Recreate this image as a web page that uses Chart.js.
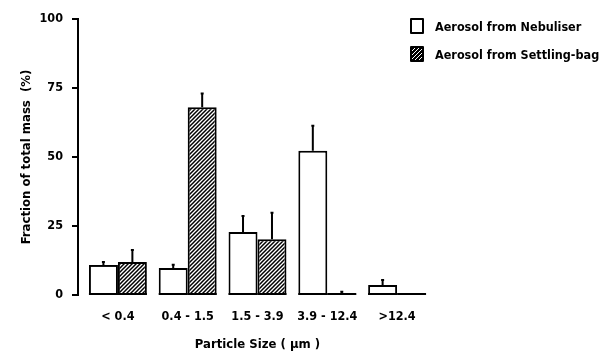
<!DOCTYPE html>
<html>
<head>
<meta charset="utf-8">
<script src="https://cdn.jsdelivr.net/npm/chart.js@4"></script>
<style>
  html, body { margin: 0; padding: 0; background: #fff; }
  #wrap { position: relative; width: 605px; height: 352px; }
  #legend {
    position: absolute; left: 410px; top: 18px;
    font: bold 12.5px "DejaVu Sans Condensed", "DejaVu Sans", sans-serif; color: #000;
  }
  .item { display: flex; align-items: center; height: 16px; margin-bottom: 12px; }
  .box { width: 10px; height: 12px; border: 2px solid #000; border-radius: 1px; margin-right: 11px; box-sizing: content-box; }
  .hatch { background: repeating-linear-gradient(-45deg, #000 0 1.6px, #fff 1.6px 2.8px); }
</style>
</head>
<body>
<div id="wrap">
  <canvas id="chart" width="605" height="352"></canvas>
  <div id="legend">
    <div class="item"><span class="box"></span>Aerosol from Nebuliser</div>
    <div class="item"><span class="box hatch"></span>Aerosol from Settling-bag</div>
  </div>
</div>
<script>
const sizes = ['< 0.4', '0.4 - 1.5', '1.5 - 3.9', '3.9 - 12.4', '>12.4'];
const yTicks = [0, 25, 50, 75, 100];

// mean fraction of total mass (%) and top of error bar
const nebuliser = [10.9, 9.8, 22.8, 52.3, 3.6];
const nebuliserErr = [12, 11, 28.6, 61.3, 5.4];
const settling = [12, 68, 20.2, 0.5, 0];
const settlingErr = [16.3, 73, 29.8, 1.2, 0];

const FONT = '"DejaVu Sans Condensed", "DejaVu Sans", sans-serif';

function hatchPattern() {
  const c = document.createElement('canvas');
  c.width = 4; c.height = 4;
  const g = c.getContext('2d');
  g.fillStyle = '#fff';
  g.fillRect(0, 0, 4, 4);
  g.strokeStyle = '#000';
  g.lineWidth = 1.5;
  g.beginPath();
  g.moveTo(-1, 5); g.lineTo(5, -1);
  g.moveTo(-1, 1); g.lineTo(1, -1);
  g.moveTo(3, 5); g.lineTo(5, 3);
  g.stroke();
  return g.createPattern(c, 'repeat');
}

// y axis line sits a little left of the plot area, with ticks pointing out
const yAxisLine = {
  id: 'yAxisLine',
  afterDraw(chart) {
    const ctx = chart.ctx;
    const y = chart.scales.y;
    const ax = chart.chartArea.left - 5;
    ctx.save();
    ctx.strokeStyle = '#000';
    ctx.lineWidth = 2;
    ctx.beginPath();
    ctx.moveTo(ax, y.getPixelForValue(100) - 1);
    ctx.lineTo(ax, y.getPixelForValue(0) + 1);
    y.ticks.forEach((t) => {
      const py = y.getPixelForValue(t.value);
      ctx.moveTo(ax - 6, py);
      ctx.lineTo(ax, py);
    });
    ctx.stroke();
    ctx.restore();
  },
};

// error bars (upper only) and bar baselines
const errorBars = {
  id: 'errorBars',
  afterDatasetsDraw(chart) {
    const ctx = chart.ctx;
    const y = chart.scales.y;
    const errs = [nebuliserErr, settlingErr];
    ctx.save();
    ctx.strokeStyle = '#000';
    ctx.lineWidth = 2;
    chart.data.datasets.forEach((ds, di) => {
      chart.getDatasetMeta(di).data.forEach((bar, i) => {
        const base = y.getPixelForValue(0) - 1;
        ctx.beginPath();
        ctx.moveTo(bar.x - bar.width / 2, base);
        ctx.lineTo(bar.x + bar.width / 2, base);
        ctx.stroke();
        const top = errs[di][i];
        if (top > ds.data[i]) {
          const py = y.getPixelForValue(top);
          ctx.beginPath();
          ctx.moveTo(bar.x, bar.y);
          ctx.lineTo(bar.x, py);
          ctx.moveTo(bar.x - 1.5, py);
          ctx.lineTo(bar.x + 1.5, py);
          ctx.stroke();
        }
      });
    });
    ctx.restore();
  },
};

new Chart(document.getElementById('chart'), {
  type: 'bar',
  data: {
    labels: sizes,
    datasets: [
      {
        label: 'Aerosol from Nebuliser',
        data: nebuliser,
        backgroundColor: '#fff',
        borderColor: '#000',
        borderWidth: 2,
        borderSkipped: false,
      },
      {
        label: 'Aerosol from Settling-bag',
        data: settling,
        backgroundColor: hatchPattern(),
        borderColor: '#000',
        borderWidth: 2,
        borderSkipped: false,
      },
    ],
  },
  options: {
    responsive: false,
    animation: false,
    events: [],
    layout: { padding: { left: 8, top: 19, right: 173, bottom: 0 } },
    datasets: { bar: { categoryPercentage: 0.83, barPercentage: 1 } },
    plugins: { legend: { display: false }, tooltip: { enabled: false } },
    scales: {
      x: {
        grid: { display: false, drawTicks: false },
        border: { display: false },
        ticks: { color: '#000', padding: 14, font: { family: FONT, size: 12.5, weight: 'bold' } },
        title: {
          display: true,
          text: 'Particle Size ( µm )',
          color: '#000',
          padding: { top: 0, bottom: 0 },
          font: { family: FONT, size: 13, weight: 'bold' },
        },
        afterFit: (s) => { s.height = 57; },
      },
      y: {
        min: 0,
        max: 100,
        afterBuildTicks: (s) => { s.ticks = yTicks.map((v) => ({ value: v })); },
        grid: { display: false, tickLength: 10 },
        border: { display: false },
        ticks: { color: '#000', padding: 10, font: { family: FONT, size: 12.5, weight: 'bold' } },
        title: {
          display: true,
          text: 'Fraction of total mass  (%)',
          color: '#000',
          padding: { top: 11, bottom: 0 },
          font: { family: FONT, size: 13, weight: 'bold' },
        },
        afterFit: (s) => { s.width = 75; },
      },
    },
  },
  plugins: [errorBars, yAxisLine],
});
</script>
</body>
</html>
